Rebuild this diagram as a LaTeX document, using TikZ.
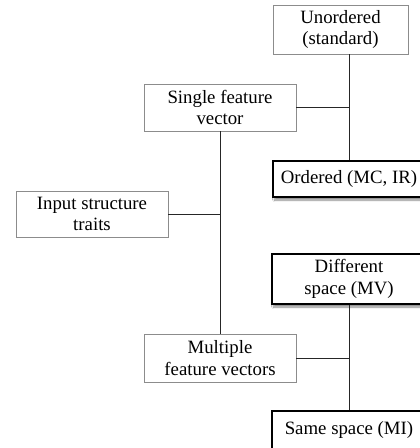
\documentclass[tikz,border=0pt]{standalone}
\usepackage{fontspec}
\setmainfont{Liberation Serif}
\usetikzlibrary{shadows.blur}
\begin{document}
\begin{tikzpicture}[x=1pt,y=-1pt,
  txt/.style={align=center, inner sep=0pt, font=\fontsize{18.8}{21.5}\selectfont},
  lightbox/.style={txt, draw=black!45, line width=0.8pt, fill=white},
  boldbox/.style={txt, draw=black, line width=2.2pt, fill=white,
     blur shadow={shadow xshift=1.5pt, shadow yshift=-3pt, shadow blur steps=6, shadow opacity=45}},
  conn/.style={draw=black!85, line width=0.9pt}]
\useasboundingbox (0,0) rectangle (420,448);
\clip (0,0) rectangle (420,448);
\fill[white] (0,0) rectangle (420,448);
% nodes
\node[lightbox, minimum width=135pt, minimum height=49pt] (unord) at (340.5,29.5) {Unordered\\(standard)};
\node[lightbox, minimum width=152pt, minimum height=47pt] (single) at (220,107.5) {Single feature\\vector};
\node[lightbox, minimum width=152pt, minimum height=46pt] (input) at (92,214) {Input structure\\traits};
\node[lightbox, minimum width=152pt, minimum height=48pt] (multi) at (220,358) {Multiple\\feature vectors};
\node[boldbox, minimum width=152pt, minimum height=36pt] (ord) at (349,179) {Ordered (MC, IR)};
\node[boldbox, minimum width=154pt, minimum height=50pt] (diff) at (349,279) {Different\\space (MV)};
\node[boldbox, minimum width=154pt, minimum height=38pt] (same) at (349,430) {Same space (MI)};
% junctions
\coordinate (j1) at (ord.north |- single.east);
\coordinate (j2) at (single.south |- input.east);
\coordinate (j3) at (diff.south |- multi.east);
% connectors
\draw[conn] (ord.north |- unord.south) -- (ord.north);
\draw[conn] (single.east) -- (j1);
\draw[conn] (single.south) -- (multi.north);
\draw[conn] (input.east) -- (j2);
\draw[conn] (diff.south) -- (same.north);
\draw[conn] (multi.east) -- (j3);
\end{tikzpicture}
\end{document}
